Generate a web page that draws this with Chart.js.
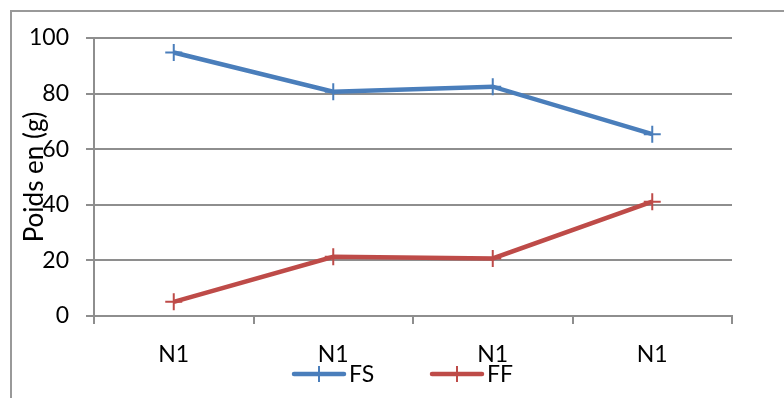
<!DOCTYPE html>
<html>
<head>
<meta charset="utf-8">
<script src="https://cdn.jsdelivr.net/npm/chart.js@4/dist/chart.umd.min.js"></script>
<style>
  body { margin: 0; background: #fff; overflow: hidden; }
  #frame { position: absolute; left: 10px; top: 10px; width: 900px; height: 500px; border: 2px solid #999; }
  #wrap { position: absolute; left: 0; top: 0; width: 784px; height: 398px; }
</style>
</head>
<body>
<div id="frame"></div>
<div id="wrap"><canvas id="chart"></canvas></div>
<script>
// categories + values
const categories = ['N1', 'N1', 'N1', 'N1']
const fsValues = [94.8, 80.7, 82.5, 65.4]
const ffValues = [5.1, 21.3, 20.7, 41.1]
const yTicks = [0, 20, 40, 60, 80, 100]

const blue = '#4A7EBB'
const red = '#BE4B48'
const font = { family: 'Lato', size: 23 }

// legend drawn by hand: line with a cross on it, then the label
const legendPlugin = {
  id: 'excelLegend',
  afterDraw(chart) {
    const ctx = chart.ctx
    const sets = chart.data.datasets
    const y = 374
    let x = 292
    ctx.save()
    ctx.font = '23px Lato'
    ctx.textBaseline = 'middle'
    sets.forEach((ds) => {
      ctx.strokeStyle = ds.borderColor
      ctx.lineWidth = 4.5
      ctx.lineCap = 'round'
      ctx.beginPath()
      ctx.moveTo(x + 2, y)
      ctx.lineTo(x + 52, y)
      ctx.stroke()
      ctx.lineWidth = 2
      ctx.lineCap = 'butt'
      ctx.beginPath()
      ctx.moveTo(x + 27, y - 8)
      ctx.lineTo(x + 27, y + 8)
      ctx.stroke()
      ctx.fillStyle = '#000'
      ctx.fillText(ds.label, x + 57, y + 1)
      x += 138
    })
    ctx.restore()
  }
}

const chart = document.getElementById('chart')

let lineChart = new Chart(chart, {
  type: 'line',
  data: {
    labels: categories,
    datasets: [
      {
        label: 'FS',
        data: fsValues,
        borderColor: blue,
        backgroundColor: blue,
        borderWidth: 4.5,
        pointStyle: 'cross',
        pointRadius: 8.5,
        pointBorderWidth: 2,
        fill: false
      },
      {
        label: 'FF',
        data: ffValues,
        borderColor: red,
        backgroundColor: red,
        borderWidth: 4.5,
        pointStyle: 'cross',
        pointRadius: 8.5,
        pointBorderWidth: 2,
        fill: false
      }
    ]
  },
  options: {
    responsive: true,
    maintainAspectRatio: false,
    animation: false,
    layout: { padding: { left: 0, top: 38, right: 52, bottom: 0 } },
    plugins: {
      legend: { display: false },
      tooltip: { enabled: false }
    },
    scales: {
      x: {
        offset: true,
        grid: { offset: true, drawOnChartArea: false, color: '#8e8e8e', lineWidth: 2, tickLength: 8 },
        border: { color: '#8e8e8e', width: 2 },
        ticks: { color: '#000', font: font, padding: 17 },
        afterFit(scale) { scale.height = 82 }
      },
      y: {
        min: 0,
        max: 100,
        afterBuildTicks(scale) { scale.ticks = yTicks.map(v => ({ value: v })) },
        grid: { color: '#8e8e8e', lineWidth: 2, tickLength: 8 },
        border: { color: '#8e8e8e', width: 2 },
        ticks: { color: '#000', font: font, padding: 17 },
        title: { display: true, text: 'Poids en (g)', color: '#000', font: { family: 'Lato', size: 26 }, padding: { top: 19, bottom: 0 } },
        afterFit(scale) { scale.width = 94 }
      }
    }
  },
  plugins: [legendPlugin]
})
</script>
</body>
</html>
